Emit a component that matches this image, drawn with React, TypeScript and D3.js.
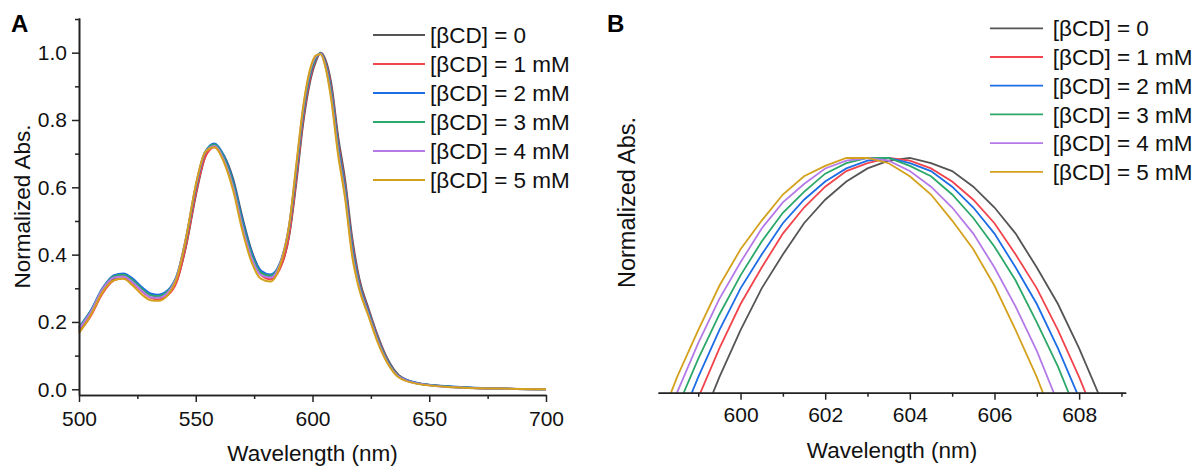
import { useEffect, useRef } from "react";
import * as d3 from "d3";

// legend entries, one per beta-cyclodextrin concentration
const seriesLabels = [
  "[βCD] = 0",
  "[βCD] = 1 mM",
  "[βCD] = 2 mM",
  "[βCD] = 3 mM",
  "[βCD] = 4 mM",
  "[βCD] = 5 mM",
];
const seriesColors = ["#555555", "#f2444c", "#1c6de6", "#2ba86a", "#b57ae8", "#d4a11c"];

// panel A: full spectra
const wavelengthA = [
  500, 505, 510, 515, 519, 523, 527, 531, 534, 538, 542, 546, 550, 554, 558, 562, 566, 570, 574, 578, 582,
  586, 590, 593, 596, 599, 601.5, 603.5, 605.5, 608, 611, 614, 617, 620, 624, 628, 632, 637, 645, 660, 680, 700,
];
const absA0 = [
  0.175, 0.222, 0.288, 0.33, 0.338, 0.325, 0.3, 0.28, 0.275, 0.285, 0.325, 0.43, 0.575, 0.69, 0.725, 0.695, 0.625,
  0.51, 0.41, 0.35, 0.335, 0.36, 0.455, 0.61, 0.79, 0.915, 0.975, 1.0, 0.98, 0.91, 0.75, 0.62, 0.45, 0.33, 0.24,
  0.158, 0.092, 0.042, 0.018, 0.007, 0.002, 0.0,
];
const absA1 = [
  0.17, 0.217, 0.284, 0.324, 0.33, 0.316, 0.29, 0.271, 0.267, 0.279, 0.322, 0.433, 0.58, 0.689, 0.719, 0.685, 0.611,
  0.494, 0.396, 0.339, 0.327, 0.357, 0.459, 0.622, 0.802, 0.924, 0.98, 1.0, 0.974, 0.897, 0.735, 0.605, 0.435, 0.321,
  0.234, 0.153, 0.088, 0.04, 0.018, 0.007, 0.002, 0.0,
];
const absA2 = [
  0.185, 0.234, 0.3, 0.339, 0.344, 0.329, 0.303, 0.284, 0.281, 0.294, 0.34, 0.451, 0.598, 0.704, 0.73, 0.694, 0.618,
  0.503, 0.406, 0.352, 0.341, 0.374, 0.481, 0.642, 0.817, 0.934, 0.983, 0.999, 0.97, 0.888, 0.725, 0.595, 0.425,
  0.315, 0.23, 0.149, 0.086, 0.039, 0.019, 0.008, 0.002, 0.0,
];
const absA3 = [
  0.183, 0.232, 0.298, 0.336, 0.34, 0.324, 0.298, 0.279, 0.277, 0.291, 0.34, 0.454, 0.602, 0.705, 0.727, 0.689,
  0.61, 0.493, 0.398, 0.346, 0.337, 0.373, 0.485, 0.65, 0.825, 0.94, 0.986, 0.998, 0.966, 0.879, 0.715, 0.585, 0.415,
  0.309, 0.225, 0.145, 0.084, 0.038, 0.017, 0.007, 0.002, 0.0,
];
const absA4 = [
  0.18, 0.229, 0.296, 0.332, 0.335, 0.318, 0.292, 0.273, 0.272, 0.287, 0.338, 0.457, 0.605, 0.704, 0.723, 0.682,
  0.601, 0.483, 0.389, 0.339, 0.332, 0.371, 0.488, 0.658, 0.834, 0.947, 0.989, 0.997, 0.962, 0.87, 0.705, 0.575,
  0.405, 0.303, 0.221, 0.142, 0.081, 0.037, 0.017, 0.006, 0.002, 0.0,
];
const absA5 = [
  0.167, 0.22, 0.288, 0.324, 0.328, 0.308, 0.281, 0.264, 0.263, 0.28, 0.333, 0.455, 0.607, 0.704, 0.719, 0.676,
  0.591, 0.47, 0.376, 0.328, 0.32, 0.365, 0.487, 0.664, 0.84, 0.952, 0.992, 0.995, 0.958, 0.861, 0.695, 0.565, 0.395,
  0.297, 0.217, 0.138, 0.079, 0.035, 0.016, 0.006, 0.002, 0.0,
];

// panel B: zoom on the main band
const wavelengthB = [
  598, 598.5, 599, 599.5, 600, 600.5, 601, 601.5, 602, 602.5, 603, 603.5, 604, 604.5, 605, 605.5, 606, 606.5, 607,
  607.5, 608, 608.5, 609,
];
const absB0 = [
  0.849, 0.873, 0.896, 0.916, 0.934, 0.95, 0.963, 0.975, 0.984, 0.991, 0.996, 0.999, 1.0, 0.998, 0.995, 0.989, 0.981,
  0.971, 0.958, 0.944, 0.927, 0.908, 0.887,
];
const absB1 = [
  0.864, 0.887, 0.908, 0.927, 0.944, 0.958, 0.971, 0.981, 0.989, 0.995, 0.998, 1.0, 0.999, 0.996, 0.991, 0.984,
  0.975, 0.963, 0.95, 0.934, 0.916, 0.896, 0.873,
];
const absB2 = [
  0.873, 0.896, 0.916, 0.934, 0.95, 0.963, 0.975, 0.984, 0.991, 0.996, 0.999, 1.0, 0.998, 0.995, 0.989, 0.981, 0.971,
  0.958, 0.944, 0.927, 0.908, 0.887, 0.864,
];
const absB3 = [
  0.882, 0.904, 0.923, 0.94, 0.955, 0.968, 0.979, 0.987, 0.994, 0.998, 1.0, 1.0, 0.997, 0.993, 0.986, 0.977, 0.966,
  0.953, 0.937, 0.92, 0.9, 0.878, 0.854,
];
const absB4 = [
  0.888, 0.91, 0.929, 0.946, 0.96, 0.973, 0.983, 0.99, 0.996, 0.999, 1.0, 0.999, 0.995, 0.989, 0.981, 0.971, 0.958,
  0.943, 0.926, 0.906, 0.885, 0.861, 0.834,
];
const absB5 = [
  0.895, 0.916, 0.934, 0.951, 0.965, 0.976, 0.986, 0.993, 0.997, 1.0, 1.0, 0.998, 0.993, 0.986, 0.976, 0.965, 0.951,
  0.934, 0.916, 0.895, 0.871, 0.846, 0.818,
];

const xTicksA = [500, 550, 600, 650, 700];
const xMinorA = [525, 575, 625, 675];
const yTicksA = [0, 0.2, 0.4, 0.6, 0.8, 1.0];
const yMinorA = [0.1, 0.3, 0.5, 0.7, 0.9, 1.1];
const xTicksB = [600, 602, 604, 606, 608];
const xMinorB = [599, 601, 603, 605, 607, 609];

const FONT = "'Liberation Sans', Arial, Helvetica, sans-serif";

export default function App() {
  const ref = useRef<SVGSVGElement>(null);

  useEffect(() => {
    const svg = d3.select(ref.current);
    svg.selectAll("*").remove();
    svg.style("font-family", FONT);

    const seriesA = [absA0, absA1, absA2, absA3, absA4, absA5];
    const seriesB = [absB0, absB1, absB2, absB3, absB4, absB5];

    // ---------- panel A ----------
    const xA = d3.scaleLinear().domain([500, 700]).range([79, 546]);
    const yA = d3.scaleLinear().domain([-0.017, 1.103]).range([395, 18]);

    const gA = svg.append("g");
    const lineA = d3
      .line<number>()
      .x((_, i) => xA(wavelengthA[i]))
      .y((d) => yA(d))
      .curve(d3.curveMonotoneX);

    seriesA.forEach((vals, k) => {
      gA.append("path")
        .attr("d", lineA(vals))
        .attr("fill", "none")
        .attr("stroke", seriesColors[k])
        .attr("stroke-width", 2);
    });

    const styleAxis = (g: any) => {
      g.select(".domain").attr("stroke", "#222").attr("stroke-width", 1.6);
      g.selectAll(".tick line").attr("stroke", "#222").attr("stroke-width", 1.5);
      g.selectAll(".tick text").attr("fill", "#111").style("font-size", "21px").style("font-family", FONT);
    };

    gA.append("g")
      .attr("transform", "translate(0,395)")
      .call(d3.axisBottom(xA).tickValues(xMinorA).tickSize(4).tickSizeOuter(0).tickFormat(() => ""))
      .call(styleAxis);
    gA.append("g")
      .attr("transform", "translate(0,395)")
      .call(d3.axisBottom(xA).tickValues(xTicksA).tickSize(7).tickSizeOuter(0).tickPadding(9).tickFormat(d3.format("d")))
      .call(styleAxis);
    gA.append("g")
      .attr("transform", "translate(79,0)")
      .call(d3.axisLeft(yA).tickValues(yMinorA).tickSize(4).tickSizeOuter(0).tickFormat(() => ""))
      .call(styleAxis);
    gA.append("g")
      .attr("transform", "translate(79,0)")
      .call(d3.axisLeft(yA).tickValues(yTicksA).tickSize(7).tickSizeOuter(0).tickPadding(5).tickFormat(d3.format(".1f")))
      .call(styleAxis);

    gA.append("text")
      .attr("x", 312.5)
      .attr("y", 461)
      .attr("text-anchor", "middle")
      .style("font-size", "22.5px")
      .attr("fill", "#111")
      .text("Wavelength (nm)");
    gA.append("text")
      .attr("transform", "translate(30,206.5) rotate(-90)")
      .attr("text-anchor", "middle")
      .style("font-size", "22.5px")
      .attr("fill", "#111")
      .text("Normalized Abs.");
    gA.append("text")
      .attr("x", 11)
      .attr("y", 32)
      .style("font-size", "24px")
      .style("font-weight", "bold")
      .text("A");

    const legA = gA.append("g");
    seriesLabels.forEach((lab, k) => {
      const yy = 35 + k * 29;
      legA.append("line").attr("x1", 373).attr("x2", 425).attr("y1", yy).attr("y2", yy)
        .attr("stroke", seriesColors[k]).attr("stroke-width", 1.8);
      legA.append("text").attr("x", 430).attr("y", yy).attr("dy", "0.36em")
        .style("font-size", "22.5px").attr("fill", "#111").text(lab);
    });

    // ---------- panel B ----------
    const xB = d3.scaleLinear().domain([598.05, 609.1]).range([658, 1125.7]);
    const yB = d3.scaleLinear().domain([0.91, 1.0]).range([392.7, 158]);

    const gB = svg.append("g");
    gB.append("clipPath").attr("id", "clipB")
      .append("rect").attr("x", 658).attr("y", 0).attr("width", 1125.7 - 658).attr("height", 392.7);

    const lineB = d3
      .line<number>()
      .x((_, i) => xB(wavelengthB[i]))
      .y((d) => yB(d));

    seriesB.forEach((vals, k) => {
      gB.append("path")
        .attr("d", lineB(vals))
        .attr("clip-path", "url(#clipB)")
        .attr("fill", "none")
        .attr("stroke", seriesColors[k])
        .attr("stroke-width", 1.8);
    });

    gB.append("g")
      .attr("transform", "translate(0,392.7)")
      .call(d3.axisBottom(xB).tickValues(xMinorB).tickSize(4).tickSizeOuter(0).tickFormat(() => ""))
      .call(styleAxis);
    gB.append("g")
      .attr("transform", "translate(0,392.7)")
      .call(d3.axisBottom(xB).tickValues(xTicksB).tickSize(7).tickSizeOuter(0).tickPadding(7).tickFormat(d3.format("d")))
      .call(styleAxis);

    gB.append("text")
      .attr("x", 892)
      .attr("y", 458)
      .attr("text-anchor", "middle")
      .style("font-size", "22.5px")
      .attr("fill", "#111")
      .text("Wavelength (nm)");
    gB.append("text")
      .attr("transform", "translate(635,202.5) rotate(-90)")
      .attr("text-anchor", "middle")
      .style("font-size", "23.5px")
      .attr("fill", "#111")
      .text("Normalized Abs.");
    gB.append("text")
      .attr("x", 607)
      .attr("y", 32)
      .style("font-size", "24px")
      .style("font-weight", "bold")
      .text("B");

    const legB = gB.append("g");
    seriesLabels.forEach((lab, k) => {
      const yy = 28.3 + k * 28.7;
      legB.append("line").attr("x1", 990).attr("x2", 1043).attr("y1", yy).attr("y2", yy)
        .attr("stroke", seriesColors[k]).attr("stroke-width", 1.8);
      legB.append("text").attr("x", 1052.7).attr("y", yy).attr("dy", "0.36em")
        .style("font-size", "22.5px").attr("fill", "#111").text(lab);
    });
  }, []);

  return (
    <svg
      ref={ref}
      width={1199}
      height={469}
      style={{ position: "absolute", left: 0, top: 0, background: "#ffffff" }}
    />
  );
}
